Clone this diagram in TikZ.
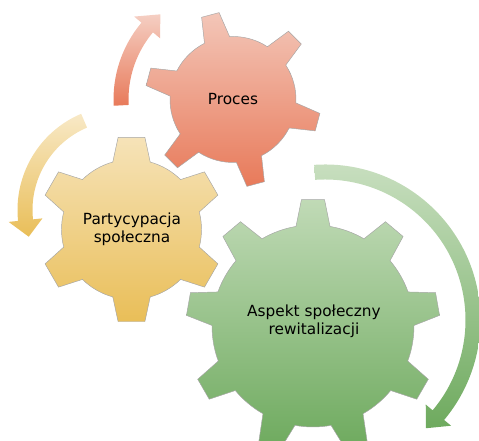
\documentclass[tikz,border=0pt]{standalone}
\usepackage{fontspec}
\setmainfont{DejaVu Sans}
\usepackage{tikz}
\usetikzlibrary{positioning, calc}
\usepackage{xcolor}
\definecolor{procestop}{RGB}{243, 198, 184}
\definecolor{procesbot}{RGB}{232, 122, 90}
\definecolor{partytop}{RGB}{246, 227, 184}
\definecolor{partybot}{RGB}{233, 190, 88}
\definecolor{aspekttop}{RGB}{192, 218, 182}
\definecolor{aspektbot}{RGB}{110, 170, 94}

% teeth, first angle, body radius, tip radius, base half angle, tip half angle
\newcommand{\gearpath}[6]{%
  ({#2-#5}:#3)
  \foreach \k in {1,...,#1}{
    -- ({#2+(\k-1)*360/#1-#6}:#4) -- ({#2+(\k-1)*360/#1+#6}:#4)
    -- ({#2+(\k-1)*360/#1+#5}:#3)
    arc[start angle={#2+(\k-1)*360/#1+#5}, end angle={#2+\k*360/#1-#5}, radius=#3]
  } -- cycle}
% start, head base, tip, radius, half width, half head width
\newcommand{\turnarrow}[6]{%
  (#1:{#4+#5}) arc[start angle=#1, end angle=#2, radius={#4+#5}]
  -- (#2:{#4+#6}) -- (#3:#4) -- (#2:{#4-#6}) -- (#2:{#4-#5})
  arc[start angle=#2, end angle=#1, radius={#4-#5}] -- cycle}

\begin{document}
\begin{tikzpicture}[x=0.75pt, y=0.75pt,
    gear/.style={draw=gray!70, line width=0.35pt},
    label/.style={font=\fontsize{11.5}{13.5}\selectfont, align=center, text=black}]
  \useasboundingbox (0,0) rectangle (479,441);
  \clip (0,0) rectangle (479,441);

  \coordinate (redc) at (233,341.5);
  \coordinate (yelc) at (131.5,211.5);
  \coordinate (grec) at (313,115);

  % arrows
  \path[shift={(redc)}, top color=procestop!85!white, bottom color=procesbot]
    \turnarrow{183}{140}{130.5}{112}{7.5}{17};
  \path[shift={(122,231)}, top color=partytop!80!white, bottom color=partybot]
    \turnarrow{113}{186}{196}{97}{7.5}{17};
  \path[shift={(325,121)}, top color=aspekttop!85!white, bottom color=aspektbot]
    \turnarrow{94}{-40}{-47}{148}{7.5}{16.5};

  % gears
  \draw[gear, shift={(redc)}, top color=procestop, bottom color=procesbot]
    \gearpath{6}{105}{63}{88}{11.9}{5.9};
  \draw[gear, shift={(yelc)}, top color=partytop, bottom color=partybot]
    \gearpath{6}{90}{70}{93}{15.5}{8.3};
  \draw[gear, shift={(grec)}, top color=aspekttop, bottom color=aspektbot]
    \gearpath{9}{90}{101}{127}{9.7}{5.2};

  \node[label] (proces) at (233,342) {Proces};
  \node[label] (partycypacja) at (132,212) {Partycypacja\\społeczna};
  \node[label] (aspekt) at (314,120) {Aspekt społeczny\\rewitalizacji};
\end{tikzpicture}
\end{document}
